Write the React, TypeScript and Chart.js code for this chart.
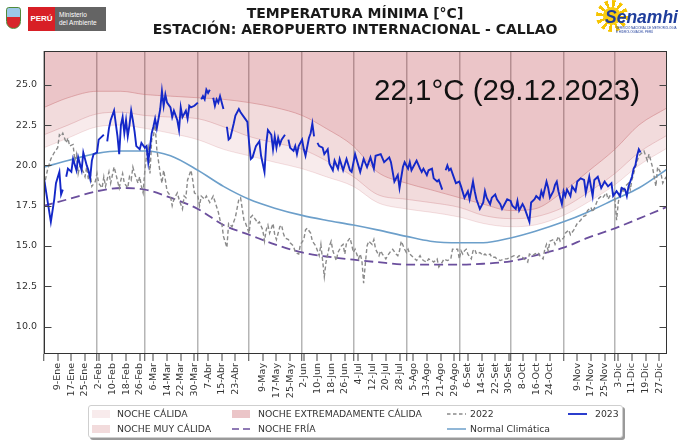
import React, { useEffect, useRef } from 'react';
import { Chart, registerables } from 'chart.js';
Chart.register(...registerables);

// ---------- DATA ----------
const thresholdDays = [1, 15, 32, 46, 60, 75, 91, 106, 121, 136, 152, 166, 182, 196, 213, 227, 244, 258, 274, 288, 305, 319, 335, 349, 366];
const extremaThreshold = [23.6, 24.2, 24.6, 24.6, 24.4, 24.3, 24.2, 24.1, 23.9, 23.6, 23.1, 22.3, 21.2, 19.6, 18.9, 18.5, 18.0, 17.6, 17.2, 17.3, 18.4, 19.6, 21.0, 22.5, 23.6];
const muyCalidaThreshold = [21.9, 22.5, 23.2, 23.3, 23.1, 23.0, 22.9, 22.4, 21.8, 21.4, 21.0, 20.3, 19.3, 18.2, 17.9, 17.7, 17.4, 16.9, 16.7, 16.8, 17.4, 18.3, 19.5, 20.8, 21.9];
const calidaThreshold = [21.1, 21.7, 22.4, 22.5, 22.3, 22.0, 21.6, 21.0, 20.6, 20.2, 19.8, 19.3, 18.7, 17.7, 17.3, 17.1, 16.8, 16.4, 16.2, 16.3, 16.9, 17.7, 18.8, 20.0, 21.1];
const normalClimatica = [19.9, 20.3, 20.75, 20.9, 20.9, 20.6, 19.7, 18.7, 17.9, 17.35, 16.9, 16.6, 16.3, 16.0, 15.6, 15.3, 15.2, 15.2, 15.5, 15.9, 16.5, 17.1, 17.9, 18.6, 19.8];
const nocheFria = [17.5, 17.9, 18.4, 18.6, 18.5, 18.0, 17.3, 16.3, 15.7, 15.1, 14.6, 14.35, 14.15, 14.0, 13.85, 13.84, 13.84, 13.9, 14.05, 14.4, 14.9, 15.5, 16.1, 16.7, 17.45];

const days2023 = [1, 5, 7, 8, 10, 11, 12, 13, 14, 15, 17, 18, 20, 21, 23, 24, 26, 27, 28, 29, 30, 32, 33, 35, 36, 37, 38, 39, 40, 42, 43, 44, 45, 46, 47, 48, 49, 50, 51, 52, 53, 54, 55, 57, 58, 60, 61, 62, 64, 65, 66, 67, 69, 70, 71, 72, 73, 75, 76, 77, 79, 80, 81, 82, 84, 85, 86, 87, 89, 91, 92, 93, 94, 95, 96, 97, 98, 99, 100, 101, 102, 103, 104, 106, 107, 108, 109, 110, 112, 113, 115, 116, 118, 120, 121, 122, 123, 125, 127, 128, 130, 131, 132, 134, 135, 136, 137, 138, 139, 140, 142, 143, 144, 145, 147, 148, 149, 150, 152, 153, 154, 156, 157, 158, 159, 160, 161, 162, 164, 165, 167, 168, 170, 171, 173, 174, 176, 178, 180, 181, 183, 186, 188, 190, 192, 194, 195, 198, 200, 203, 204, 206, 208, 209, 211, 212, 214, 215, 216, 217, 219, 221, 222, 223, 225, 226, 228, 229, 231, 232, 234, 235, 236, 237, 238, 239, 241, 242, 244, 245, 247, 249, 250, 252, 253, 254, 256, 258, 259, 260, 262, 263, 265, 266, 268, 269, 271, 272, 274, 275, 277, 278, 279, 281, 282, 283, 285, 286, 288, 289, 291, 292, 293, 295, 296, 297, 299, 300, 301, 302, 304, 305, 306, 307, 309, 310, 312, 313, 315, 317, 318, 320, 322, 323, 325, 327, 329, 331, 333, 334, 336, 338, 339, 341, 342, 343, 345, 346, 347, 348, 349, 350];
const temps2023 = [19.2, 16.5, 17.9, 18.9, 19.6, 18.2, 18.5, null, 19.3, 19.8, 19.6, 20.4, 19.7, 20.5, 19.7, 20.8, 20.0, 19.7, 19.2, 20.3, 20.7, 20.8, 21.6, 21.8, 21.9, null, 21.5, 22.3, 22.8, 23.4, 22.6, 21.8, 20.7, 22.5, 23.0, 22.0, 22.8, 21.8, 22.5, 23.4, 22.8, 22.1, 21.2, 21.0, 21.4, 21.1, 21.2, 20.2, 22.0, 22.4, 22.9, 22.3, 23.5, 24.6, 23.7, 24.4, 23.9, 23.6, 23.0, 23.4, 22.8, 22.2, 23.6, 23.0, 23.4, 22.9, 23.7, 23.6, 23.7, 23.9, null, 24.1, 24.3, 24.1, 24.7, 24.5, 24.7, null, 24.2, 23.7, 24.1, 23.9, 24.3, 23.5, null, 22.4, 21.6, 21.7, 22.6, 23.1, 23.5, 23.3, 23.0, 22.7, 21.4, 20.4, 20.5, 21.2, 21.5, 20.6, 19.6, 21.3, 22.2, 21.9, 21.0, 21.8, 21.1, 21.7, 21.3, 21.6, 21.9, null, 21.6, 21.1, 20.9, 21.2, 20.7, 21.2, 21.6, 21.0, 20.6, 21.7, 22.0, 22.6, 21.8, null, 21.4, 21.2, 21.1, 20.7, 21.0, 20.1, 19.7, 20.3, 19.8, 20.4, 19.7, 20.4, 19.7, 19.6, 20.7, 19.6, 20.4, 19.9, 20.5, 19.8, 20.6, 20.7, 20.2, 20.5, 20.2, 19.0, 19.4, 18.6, 19.9, 20.2, 19.8, 20.2, 19.7, 19.9, 20.3, 19.8, 19.6, 19.8, 19.4, 19.7, 19.8, 19.2, 19.0, 19.1, 18.5, null, 19.7, 20.0, 19.7, 19.8, 19.2, 18.9, 19.0, 18.7, 18.0, 18.4, 17.9, 19.0, 18.4, 17.9, 17.3, 17.7, 18.4, 18.0, 17.6, 18.0, 18.2, 17.9, 17.6, 17.3, 17.7, 17.9, 17.8, 17.5, 17.3, 17.8, 17.2, 17.6, 17.4, 17.1, 16.5, 17.7, 17.9, 18.1, 17.9, 18.4, 18.1, 19.0, 18.6, 18.0, 18.4, 18.8, 19.0, 18.4, 17.6, 18.4, 18.1, 18.5, 18.1, 18.7, 18.4, 19.0, 19.2, 19.1, 18.3, 19.3, 18.1, 19.1, 19.3, 18.6, 19.0, 18.7, 18.9, 18.1, 18.4, 18.1, 18.6, 18.5, 18.1, 18.7, 19.3, 19.8, 20.0, 20.6, 21.0, 20.8];

const days2022 = [1, 3, 5, 7, 9, 10, 11, 12, 14, 15, 16, 18, 19, 20, 21, 22, 24, 25, 26, 27, 28, 29, 31, 32, 33, 35, 36, 37, 39, 40, 42, 43, 45, 46, 47, 48, 50, 51, 52, 53, 54, 56, 57, 58, 59, 60, 61, 62, 63, 64, 65, 66, 67, 69, 70, 71, 72, 73, 75, 76, 77, 79, 80, 82, 83, 84, 85, 87, 88, 89, 91, 92, 93, 95, 96, 98, 100, 103, 104, 105, 106, 108, 109, 111, 113, 115, 116, 118, 119, 121, 122, 123, 125, 126, 127, 129, 130, 131, 132, 133, 135, 136, 137, 139, 140, 141, 142, 144, 145, 147, 148, 150, 151, 153, 154, 155, 157, 158, 160, 161, 162, 163, 164, 165, 166, 168, 169, 170, 172, 173, 175, 176, 177, 178, 180, 181, 182, 183, 185, 186, 187, 188, 189, 190, 191, 193, 194, 195, 197, 198, 199, 201, 202, 204, 205, 207, 208, 209, 210, 212, 213, 214, 215, 217, 219, 221, 222, 223, 225, 226, 228, 229, 231, 232, 234, 235, 237, 239, 240, 242, 243, 244, 245, 246, 247, 248, 249, 251, 252, 253, 254, 256, 258, 259, 260, 262, 263, 265, 266, 268, 270, 272, 274, 276, 278, 279, 281, 282, 284, 285, 287, 288, 290, 291, 293, 294, 295, 296, 297, 299, 300, 302, 303, 305, 306, 308, 309, 311, 312, 313, 315, 316, 318, 319, 321, 322, 324, 325, 327, 328, 330, 331, 332, 334, 335, 336, 337, 338, 339, 340, 341, 343, 344, 345, 347, 349, 352, 354, 355, 357, 359, 360, 362, 363, 365];
const temps2022 = [18.7, 19.7, 20.4, 20.8, 21.1, 21.9, 21.8, 22.0, 21.4, 21.7, 21.2, 21.3, 20.3, 20.7, 19.5, 20.0, 19.6, 19.3, 19.9, 19.1, 19.6, 18.7, 19.0, 19.5, 18.9, 18.6, 19.3, 18.7, 19.6, 18.9, 19.9, 19.5, 18.6, 19.1, 19.5, 18.9, 18.6, 19.3, 19.1, 19.9, 19.5, 18.9, 19.3, 18.7, 18.3, 19.7, 20.6, 21.1, 19.5, 21.6, 21.8, 22.5, 21.0, 19.5, 18.9, 19.7, 19.1, 18.4, 18.1, 17.5, 17.9, 18.3, 17.9, 17.3, 18.1, 18.0, 19.1, 19.7, 19.1, 18.3, 18.1, 17.5, 18.1, 17.9, 18.1, 17.7, 18.1, 17.1, 16.6, 16.4, 15.6, 14.9, 16.4, 16.2, 16.8, 17.9, 18.0, 16.6, 16.4, 15.8, 16.8, 16.9, 16.6, 16.4, 16.5, 16.0, 15.3, 16.0, 16.3, 15.8, 16.4, 15.7, 15.4, 16.2, 16.3, 15.8, 15.5, 15.4, 15.2, 15.0, 14.6, 14.5, 15.1, 15.4, 16.0, 16.1, 15.8, 15.3, 15.0, 14.7, 14.4, 15.1, 14.1, 13.1, 14.0, 15.0, 15.3, 14.7, 14.1, 14.6, 15.0, 15.1, 14.5, 15.2, 15.5, 15.1, 14.6, 14.8, 14.2, 14.5, 14.1, 12.7, 13.9, 15.0, 15.3, 15.1, 15.4, 14.8, 14.4, 14.7, 14.5, 14.2, 14.4, 14.7, 14.8, 14.5, 14.4, 14.7, 15.3, 14.8, 14.6, 14.8, 14.5, 14.3, 14.1, 14.4, 14.2, 14.1, 14.0, 14.2, 14.1, 14.0, 14.2, 13.7, 14.0, 14.2, 14.1, 14.2, 14.8, 14.8, 14.8, 14.2, 14.7, 14.5, 14.7, 14.8, 14.5, 14.2, 14.7, 14.8, 14.5, 14.6, 14.4, 14.5, 14.4, 14.5, 14.3, 14.3, 14.2, 14.1, 14.2, 14.2, 14.3, 14.4, 14.3, 14.4, 14.3, 14.2, 14.0, 14.5, 14.4, 14.5, 14.6, 14.4, 14.2, 14.8, 15.1, 14.7, 15.3, 15.4, 15.1, 15.6, 15.3, 15.5, 15.8, 16.0, 15.7, 16.0, 16.2, 16.4, 16.6, 16.8, 16.9, 17.2, 17.4, 17.1, 17.6, 17.9, 18.1, 18.0, 18.3, 17.9, 18.1, 18.3, 17.9, 16.6, 17.7, 18.3, 18.7, 18.3, 18.7, 18.9, 18.5, 19.1, 19.9, 20.6, 20.9, 20.3, 20.7, 19.9, 18.7, 19.9, 19.5, 18.9, 19.3];

const monthStartDays = [1, 32, 60, 91, 121, 152, 182, 213, 244, 274, 305, 335];
const labelDays = [9, 17, 25, 33, 41, 49, 57, 65, 73, 81, 89, 97, 105, 113, 129, 137, 145, 153, 161, 169, 177, 185, 193, 201, 209, 217, 225, 233, 241, 249, 257, 265, 273, 281, 289, 297, 313, 321, 329, 337, 345, 353, 361];
const labelTexts = ['9-Ene', '17-Ene', '25-Ene', '2-Feb', '10-Feb', '18-Feb', '26-Feb', '6-Mar', '14-Mar', '22-Mar', '30-Mar', '7-Abr', '15-Abr', '23-Abr', '9-May', '17-May', '25-May', '2-Jun', '10-Jun', '18-Jun', '26-Jun', '4-Jul', '12-Jul', '20-Jul', '28-Jul', '5-Ago', '13-Ago', '21-Ago', '29-Ago', '6-Set', '14-Set', '22-Set', '30-Set', '8-Oct', '16-Oct', '24-Oct', '9-Nov', '17-Nov', '25-Nov', '3-Dic', '11-Dic', '19-Dic', '27-Dic'];
const yTickValues = [10, 12.5, 15, 17.5, 20, 22.5, 25];

// ---------- STYLE ----------
const C_EXT = 'rgba(180,40,50,0.27)';
const C_MUY = 'rgba(180,40,50,0.17)';
const C_CAL = 'rgba(180,40,50,0.095)';
const C_NORMAL = '#6c9fca';
const C_FRIA = '#6b4f9d';
const C_2022 = '#8a8a8a';
const C_2023 = '#1428c8';
const FONT = "'DejaVu Sans', sans-serif";

const toPoints = (xs: number[], ys: (number | null)[]) => xs.map((x, i) => ({ x, y: ys[i] }));
const allTicks = Array.from(new Set([...monthStartDays, ...labelDays])).sort((a, b) => a - b);
const monthSet = new Set(monthStartDays);

const framePlugin = {
  id: 'frame',
  afterDraw(chart: any) {
    const { ctx, chartArea: a, scales } = chart;
    const y = scales.y;
    ctx.save();
    ctx.strokeStyle = '#333';
    ctx.lineWidth = 1;
    const l = Math.round(a.left) + 0.5, r = Math.round(a.right) - 0.5;
    const t = Math.round(a.top) + 0.5, b = Math.round(a.bottom) - 0.5;
    ctx.strokeRect(l, t, r - l, b - t);
    ctx.strokeStyle = '#444';
    yTickValues.forEach((v) => {
      const py = Math.round(y.getPixelForValue(v)) + 0.5;
      ctx.beginPath();
      ctx.moveTo(l, py); ctx.lineTo(l + 7, py);
      ctx.moveTo(r, py); ctx.lineTo(r - 7, py);
      ctx.stroke();
    });
    ctx.restore();
  },
};

const LegendText: React.FC<{ x: number; y: number; text: string }> = ({ x, y, text }) => (
  <div style={{ position: 'absolute', left: x, top: y - 7, height: 14, lineHeight: '14px', fontFamily: FONT, fontSize: 9.3, color: '#333', whiteSpace: 'nowrap' }}>{text}</div>
);
const Patch: React.FC<{ x: number; y: number; color: string }> = ({ x, y, color }) => (
  <div style={{ position: 'absolute', left: x, top: y - 4, width: 18, height: 8, background: color }} />
);
const LineKey: React.FC<{ x: number; y: number; color: string; dash?: string; w: number }> = ({ x, y, color, dash, w }) => (
  <svg style={{ position: 'absolute', left: x, top: y - 3 }} width={20} height={6}>
    <line x1={0} y1={3} x2={19} y2={3} stroke={color} strokeWidth={w} strokeDasharray={dash} />
  </svg>
);

export default function App() {
  const ref = useRef<HTMLCanvasElement>(null);
  useEffect(() => {
    const common = { pointRadius: 0, pointHoverRadius: 0, cubicInterpolationMode: 'monotone' as const };
    const chart = new Chart(ref.current!, {
      type: 'line',
      data: {
        datasets: [
          { label: 'NOCHE EXTREMADAMENTE CÁLIDA', data: toPoints(thresholdDays, extremaThreshold), borderColor: 'rgba(200,110,115,0.45)', borderWidth: 1, backgroundColor: C_EXT, fill: 'end', order: 6, ...common },
          { label: 'NOCHE MUY CÁLIDA', data: toPoints(thresholdDays, muyCalidaThreshold), borderColor: 'rgba(200,110,115,0.3)', borderWidth: 1, backgroundColor: C_MUY, fill: 0, order: 5, ...common },
          { label: 'NOCHE CÁLIDA', data: toPoints(thresholdDays, calidaThreshold), borderColor: 'rgba(200,110,115,0.2)', borderWidth: 1, backgroundColor: C_CAL, fill: 1, order: 4, ...common },
          { label: 'Normal Climática', data: toPoints(thresholdDays, normalClimatica), borderColor: C_NORMAL, borderWidth: 1.6, fill: false, order: 3, ...common },
          { label: 'NOCHE FRÍA', data: toPoints(thresholdDays, nocheFria), borderColor: C_FRIA, borderWidth: 1.8, borderDash: [9, 5], fill: false, order: 2, ...common },
          { label: '2022', data: toPoints(days2022, temps2022), borderColor: C_2022, borderWidth: 1.4, borderDash: [4, 2.5], fill: false, order: 1, pointRadius: 0, tension: 0 },
          { label: '2023', data: toPoints(days2023, temps2023), borderColor: C_2023, borderWidth: 1.9, fill: false, order: 0, pointRadius: 0, tension: 0, spanGaps: false },
        ] as any,
      },
      options: {
        animation: false,
        responsive: false,
        maintainAspectRatio: false,
        layout: { padding: { top: 51, right: 13, left: 0, bottom: 0 } },
        plugins: { legend: { display: false }, tooltip: { enabled: false }, title: { display: false } },
        scales: {
          x: {
            type: 'linear',
            min: 1,
            max: 365.5,
            afterBuildTicks: (s: any) => { s.ticks = allTicks.map((v) => ({ value: v })); },
            afterFit: (s: any) => { s.height = 86; },
            ticks: {
              autoSkip: false,
              minRotation: 90,
              maxRotation: 90,
              padding: 2,
              color: '#333',
              font: { family: FONT, size: 9.5 },
              callback: (v: any) => {
                const i = labelDays.indexOf(Number(v));
                return i >= 0 ? labelTexts[i] : '';
              },
            },
            grid: {
              color: (c: any) => (c.tick && monthSet.has(c.tick.value) ? 'rgba(90,90,90,0.45)' : 'rgba(0,0,0,0)'),
              lineWidth: (c: any) => (c.tick && monthSet.has(c.tick.value) ? 1.5 : 0),
              tickColor: '#444',
              tickWidth: 1,
              tickLength: 7,
              drawTicks: true,
            },
            border: { display: false },
          },
          y: {
            type: 'linear',
            min: 8.3,
            max: 27.1,
            afterBuildTicks: (s: any) => { s.ticks = yTickValues.map((v) => ({ value: v })); },
            afterFit: (s: any) => { s.width = 44; },
            ticks: { color: '#333', font: { family: FONT, size: 9.5 }, padding: 7, callback: (v: any) => Number(v).toFixed(1) },
            grid: { display: false, drawTicks: false },
            border: { display: false },
          },
        },
      } as any,
      plugins: [framePlugin],
    });
    return () => chart.destroy();
  }, []);

  return (
    <div style={{ position: 'absolute', left: 0, top: 0, width: 680, height: 440, background: '#fff', overflow: 'hidden' }}>
      <canvas ref={ref} width={680} height={440} style={{ position: 'absolute', left: 0, top: 0, width: 680, height: 440 }} />

      {/* Title */}
      <div style={{ position: 'absolute', left: 55, top: 5, width: 600, textAlign: 'center', fontFamily: FONT, fontWeight: 'bold', fontSize: 14, lineHeight: '16px', color: '#1a1a1a' }}>
        <div>TEMPERATURA MÍNIMA [°C]</div>
        <div>ESTACIÓN: AEROPUERTO INTERNACIONAL - CALLAO</div>
      </div>

      {/* Left logo */}
      <div style={{ position: 'absolute', left: 6, top: 7, width: 15, height: 22, borderRadius: '3px 3px 8px 8px', border: '1.5px solid #4f8a3a', background: 'linear-gradient(to bottom, #9cc8e8 0 45%, #d8262b 45% 100%)', boxSizing: 'border-box' }} />
      <div style={{ position: 'absolute', left: 28, top: 7, width: 27, height: 24, background: '#d81f26', color: '#fff', fontFamily: "'Liberation Sans', Arial, sans-serif", fontSize: 8, fontWeight: 'bold', lineHeight: '24px', textAlign: 'center' }}>PERÚ</div>
      <div style={{ position: 'absolute', left: 55, top: 7, width: 51, height: 24, background: '#646464', color: '#fff', fontFamily: "'Liberation Sans', Arial, sans-serif", fontSize: 6.5, lineHeight: '8px', padding: '4px 0 0 4px', boxSizing: 'border-box' }}>
        <div>Ministerio</div>
        <div>del Ambiente</div>
      </div>

      {/* Senamhi logo */}
      <div style={{ position: 'absolute', left: 596, top: 0, width: 32, height: 32, borderRadius: '50%', background: 'repeating-conic-gradient(#f6c400 0deg 14deg, rgba(255,255,255,0) 14deg 30deg)' }} />
      <div style={{ position: 'absolute', left: 603, top: 7, width: 18, height: 18, borderRadius: '50%', background: '#f8cc10' }} />
      <div style={{ position: 'absolute', left: 605, top: 6, fontFamily: "'Liberation Sans', Arial, sans-serif", fontWeight: 'bold', fontStyle: 'italic', fontSize: 17.5, lineHeight: '22px', color: '#1f3e9c', whiteSpace: 'nowrap' }}>Senamhi</div>
      <div style={{ position: 'absolute', left: 616, top: 27, fontFamily: "'Liberation Sans', Arial, sans-serif", fontSize: 3, lineHeight: '3.5px', color: '#1f3e9c', whiteSpace: 'nowrap' }}>
        <div>SERVICIO NACIONAL DE METEOROLOGÍA</div>
        <div>E HIDROLOGÍA DEL PERÚ</div>
      </div>

      {/* Annotation */}
      <div style={{ position: 'absolute', left: 374, top: 75, fontFamily: "'Liberation Sans', Arial, sans-serif", fontSize: 29.5, lineHeight: '30px', color: '#111', whiteSpace: 'nowrap' }}>22,1°C (29.12.2023)</div>

      {/* Legend */}
      <div style={{ position: 'absolute', left: 88, top: 405, width: 535, height: 33, border: '1px solid #cfcfcf', borderRadius: 3, background: '#fff', boxShadow: '2px 2px 0 #9a9a9a', boxSizing: 'border-box' }} />
      <Patch x={92} y={414} color={C_CAL} />
      <LegendText x={117} y={414} text="NOCHE CÁLIDA" />
      <Patch x={92} y={429} color={C_MUY} />
      <LegendText x={117} y={429} text="NOCHE MUY CÁLIDA" />
      <Patch x={232} y={414} color={C_EXT} />
      <LegendText x={258} y={414} text="NOCHE EXTREMADAMENTE CÁLIDA" />
      <LineKey x={232} y={429} color={C_FRIA} dash="7 4" w={1.6} />
      <LegendText x={258} y={429} text="NOCHE FRÍA" />
      <LineKey x={447} y={414} color={C_2022} dash="3.5 2.5" w={1.3} />
      <LegendText x={470} y={414} text="2022" />
      <LineKey x={447} y={429} color={C_NORMAL} w={1.5} />
      <LegendText x={470} y={429} text="Normal Climática" />
      <LineKey x={568} y={414} color={C_2023} w={1.8} />
      <LegendText x={595} y={414} text="2023" />
    </div>
  );
}
